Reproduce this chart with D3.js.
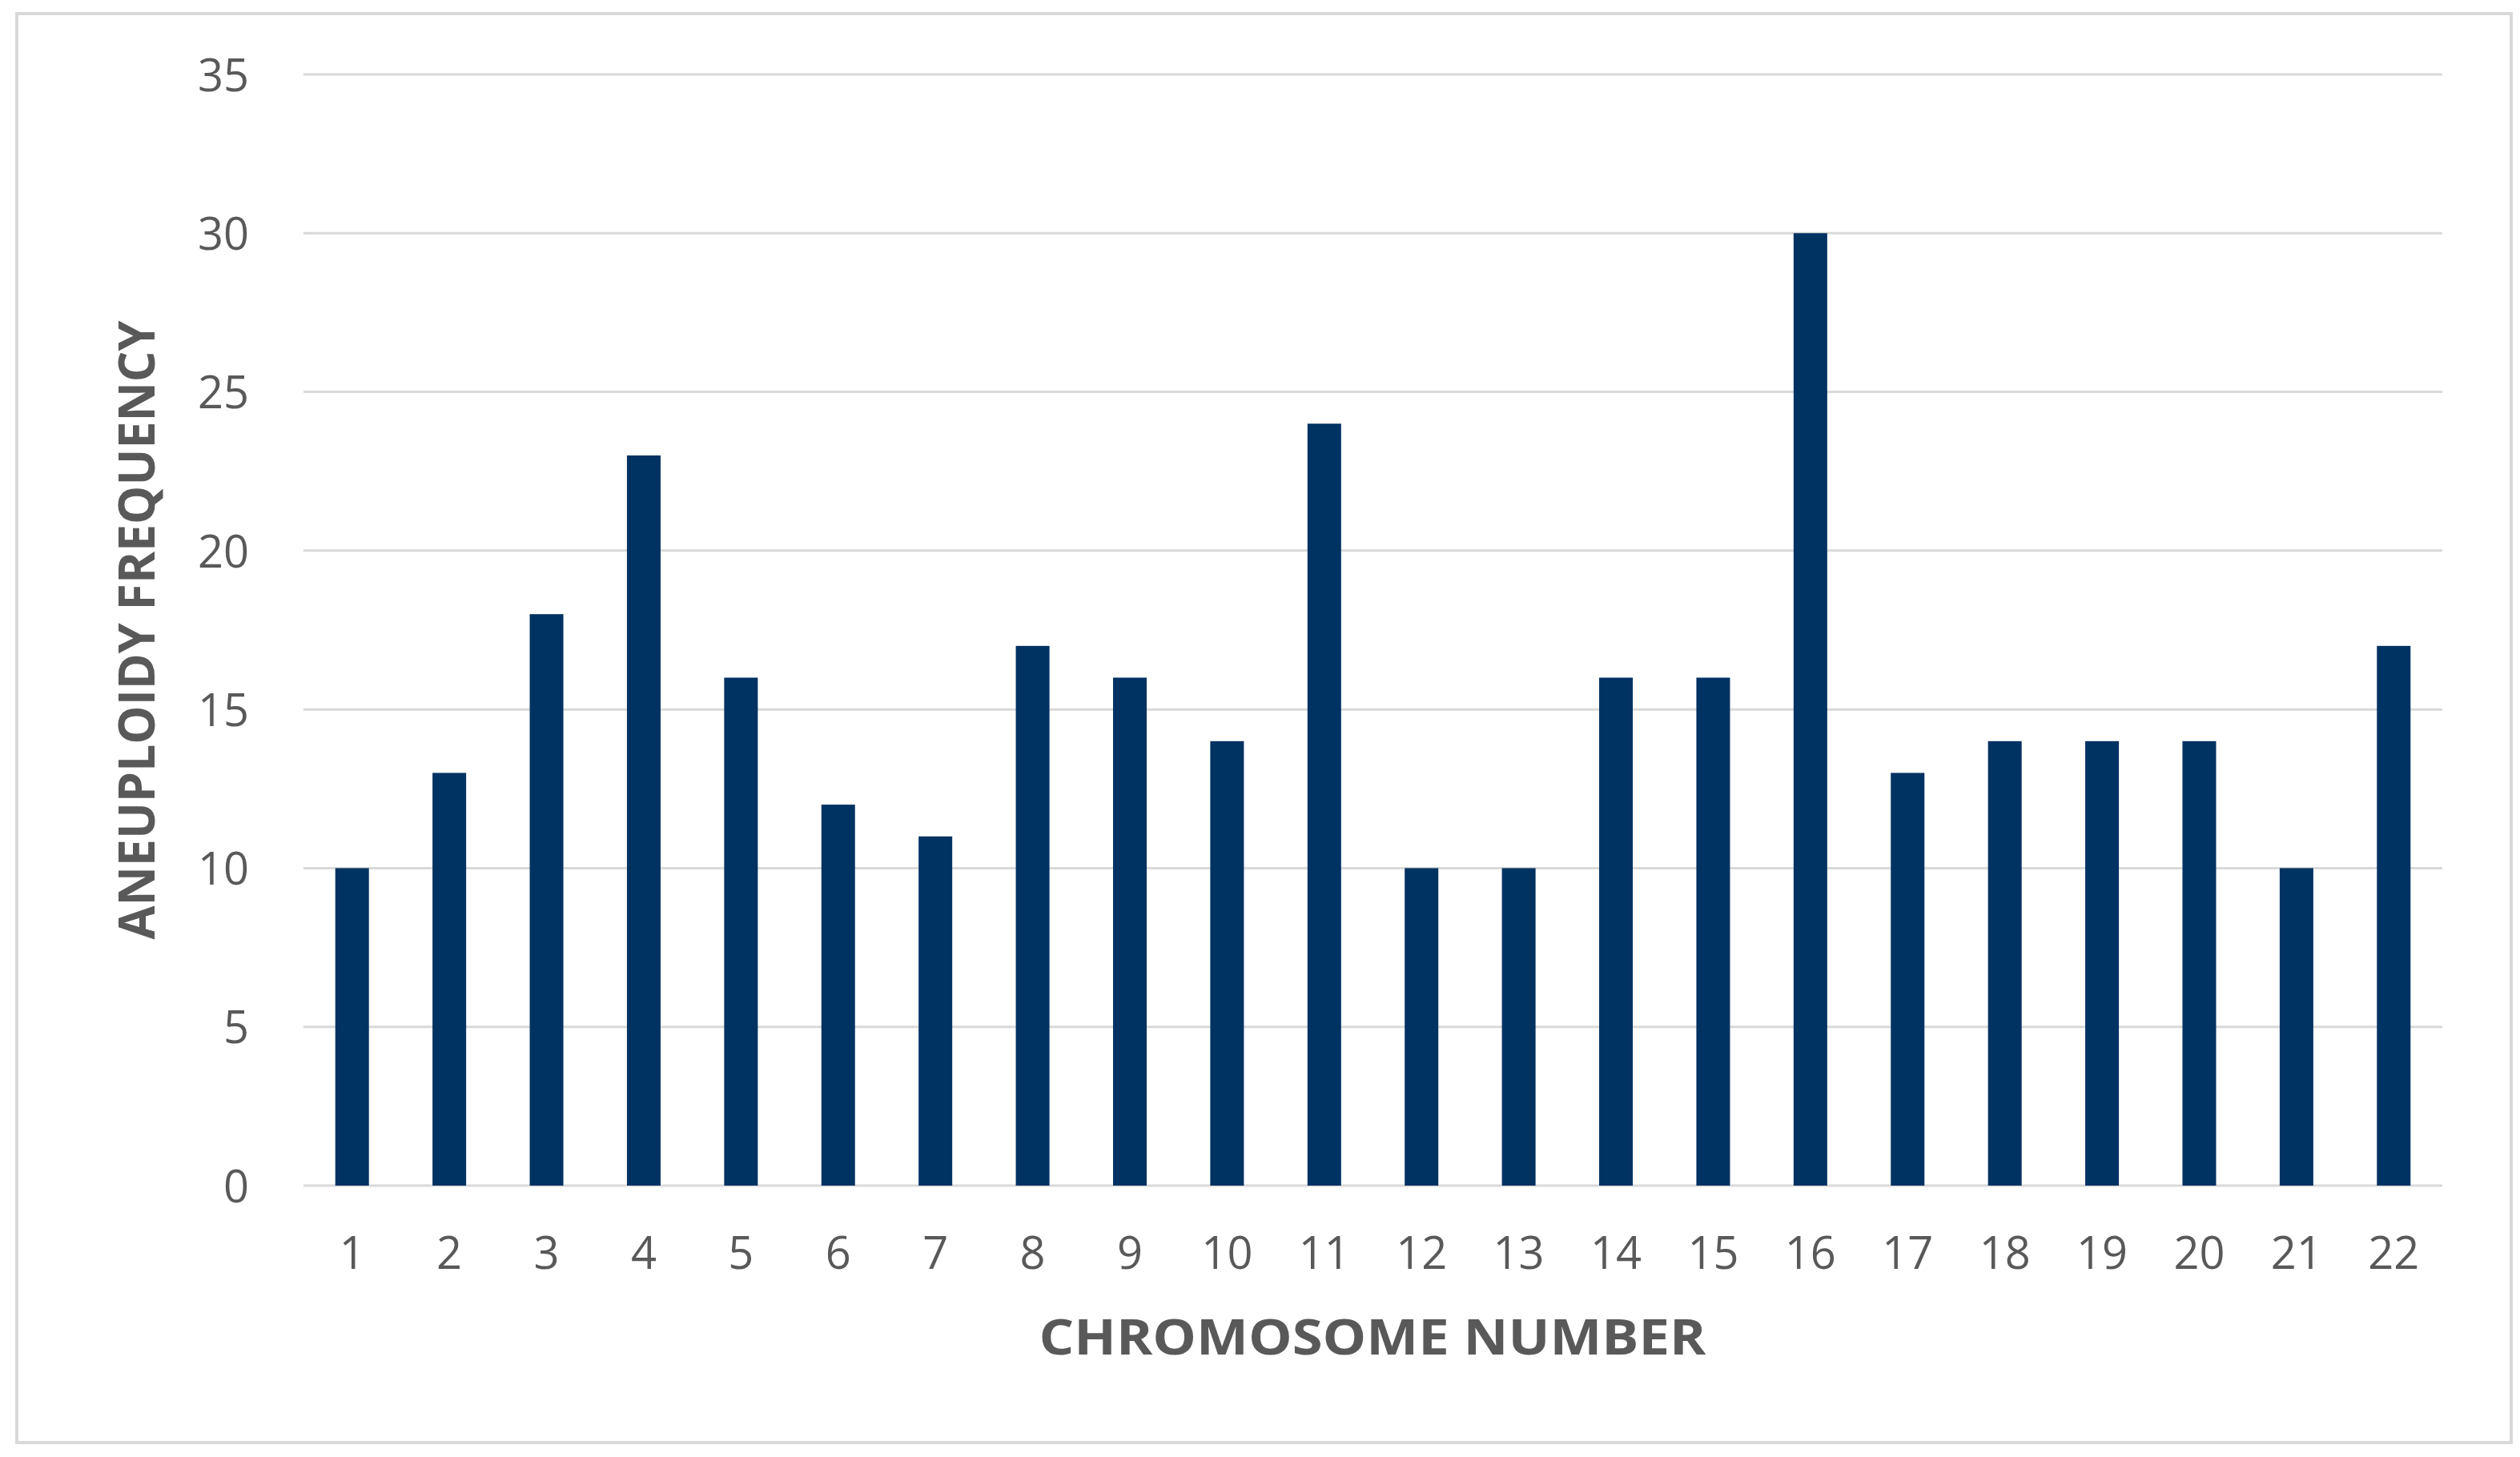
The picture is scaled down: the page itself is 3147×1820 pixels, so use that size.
<!DOCTYPE html>
<html>
<head>
<meta charset="utf-8">
<script src="https://cdn.jsdelivr.net/npm/d3@7"></script>
<style>
  html, body { margin: 0; padding: 0; background: #ffffff; }
  svg { display: block; }
</style>
</head>
<body>
<script>
const chromosomes = ["1","2","3","4","5","6","7","8","9","10","11","12","13","14","15","16","17","18","19","20","21","22"];
const frequencies = [10,13,18,23,16,12,11,17,16,14,24,10,10,16,16,30,13,14,14,14,10,17];
const yTicks = [0,5,10,15,20,25,30,35];
const xTitle = "CHROMOSOME NUMBER";
const yTitle = "ANEUPLOIDY FREQUENCY";

const W = 3147, H = 1820;
const plot = { left: 379, right: 3050, top: 93, bottom: 1481 };

const svg = d3.select("body").append("svg").attr("width", W).attr("height", H);

svg.append("rect").attr("x", 0).attr("y", 0).attr("width", W).attr("height", H).attr("fill", "#ffffff");
svg.append("rect")
  .attr("x", 21).attr("y", 17).attr("width", 3115).attr("height", 1785)
  .attr("fill", "#ffffff").attr("stroke", "#d9d9d9").attr("stroke-width", 4);

const x = d3.scaleBand().domain(chromosomes).range([plot.left, plot.right]).paddingInner(0.654).paddingOuter(0.327);
const y = d3.scaleLinear().domain([0, 35]).range([plot.bottom, plot.top]);

// gridlines
svg.append("g").selectAll("line").data(yTicks).join("line")
  .attr("x1", plot.left).attr("x2", plot.right)
  .attr("y1", d => y(d)).attr("y2", d => y(d))
  .attr("stroke", "#d9d9d9").attr("stroke-width", 3);

// bars
svg.append("g").selectAll("rect").data(frequencies).join("rect")
  .attr("x", (d, i) => x(chromosomes[i]))
  .attr("width", x.bandwidth())
  .attr("y", d => y(d))
  .attr("height", d => y(0) - y(d))
  .attr("fill", "#003262");

// y axis labels
const yAxis = d3.axisLeft(y).tickValues(yTicks).tickSize(0).tickPadding(0);
const gy = svg.append("g").attr("transform", `translate(311,0)`).call(yAxis);
gy.select(".domain").remove();
gy.selectAll("text").attr("font-family", "'Open Sans', sans-serif").attr("font-size", 56).attr("fill", "#595959").attr("dy", "0.36em");

// x axis labels
const xAxis = d3.axisBottom(x).tickSize(0).tickPadding(0);
const gx = svg.append("g").attr("transform", `translate(0,1585)`).call(xAxis);
gx.select(".domain").remove();
gx.selectAll("text").attr("font-family", "'Open Sans', sans-serif").attr("font-size", 56).attr("fill", "#595959").attr("dy", 0);

// axis titles
svg.append("text")
  .attr("x", 1714).attr("y", 1692)
  .attr("text-anchor", "middle")
  .attr("font-family", "'Open Sans', sans-serif").attr("font-weight", "bold")
  .attr("font-size", 60).attr("fill", "#595959")
  .attr("textLength", 833).attr("lengthAdjust", "spacingAndGlyphs")
  .text(xTitle);

svg.append("text")
  .attr("transform", `translate(193,787) rotate(-90)`)
  .attr("text-anchor", "middle")
  .attr("font-family", "'Open Sans', sans-serif").attr("font-weight", "bold")
  .attr("font-size", 62).attr("fill", "#595959")
  .attr("textLength", 773).attr("lengthAdjust", "spacingAndGlyphs")
  .text(yTitle);
</script>
</body>
</html>
